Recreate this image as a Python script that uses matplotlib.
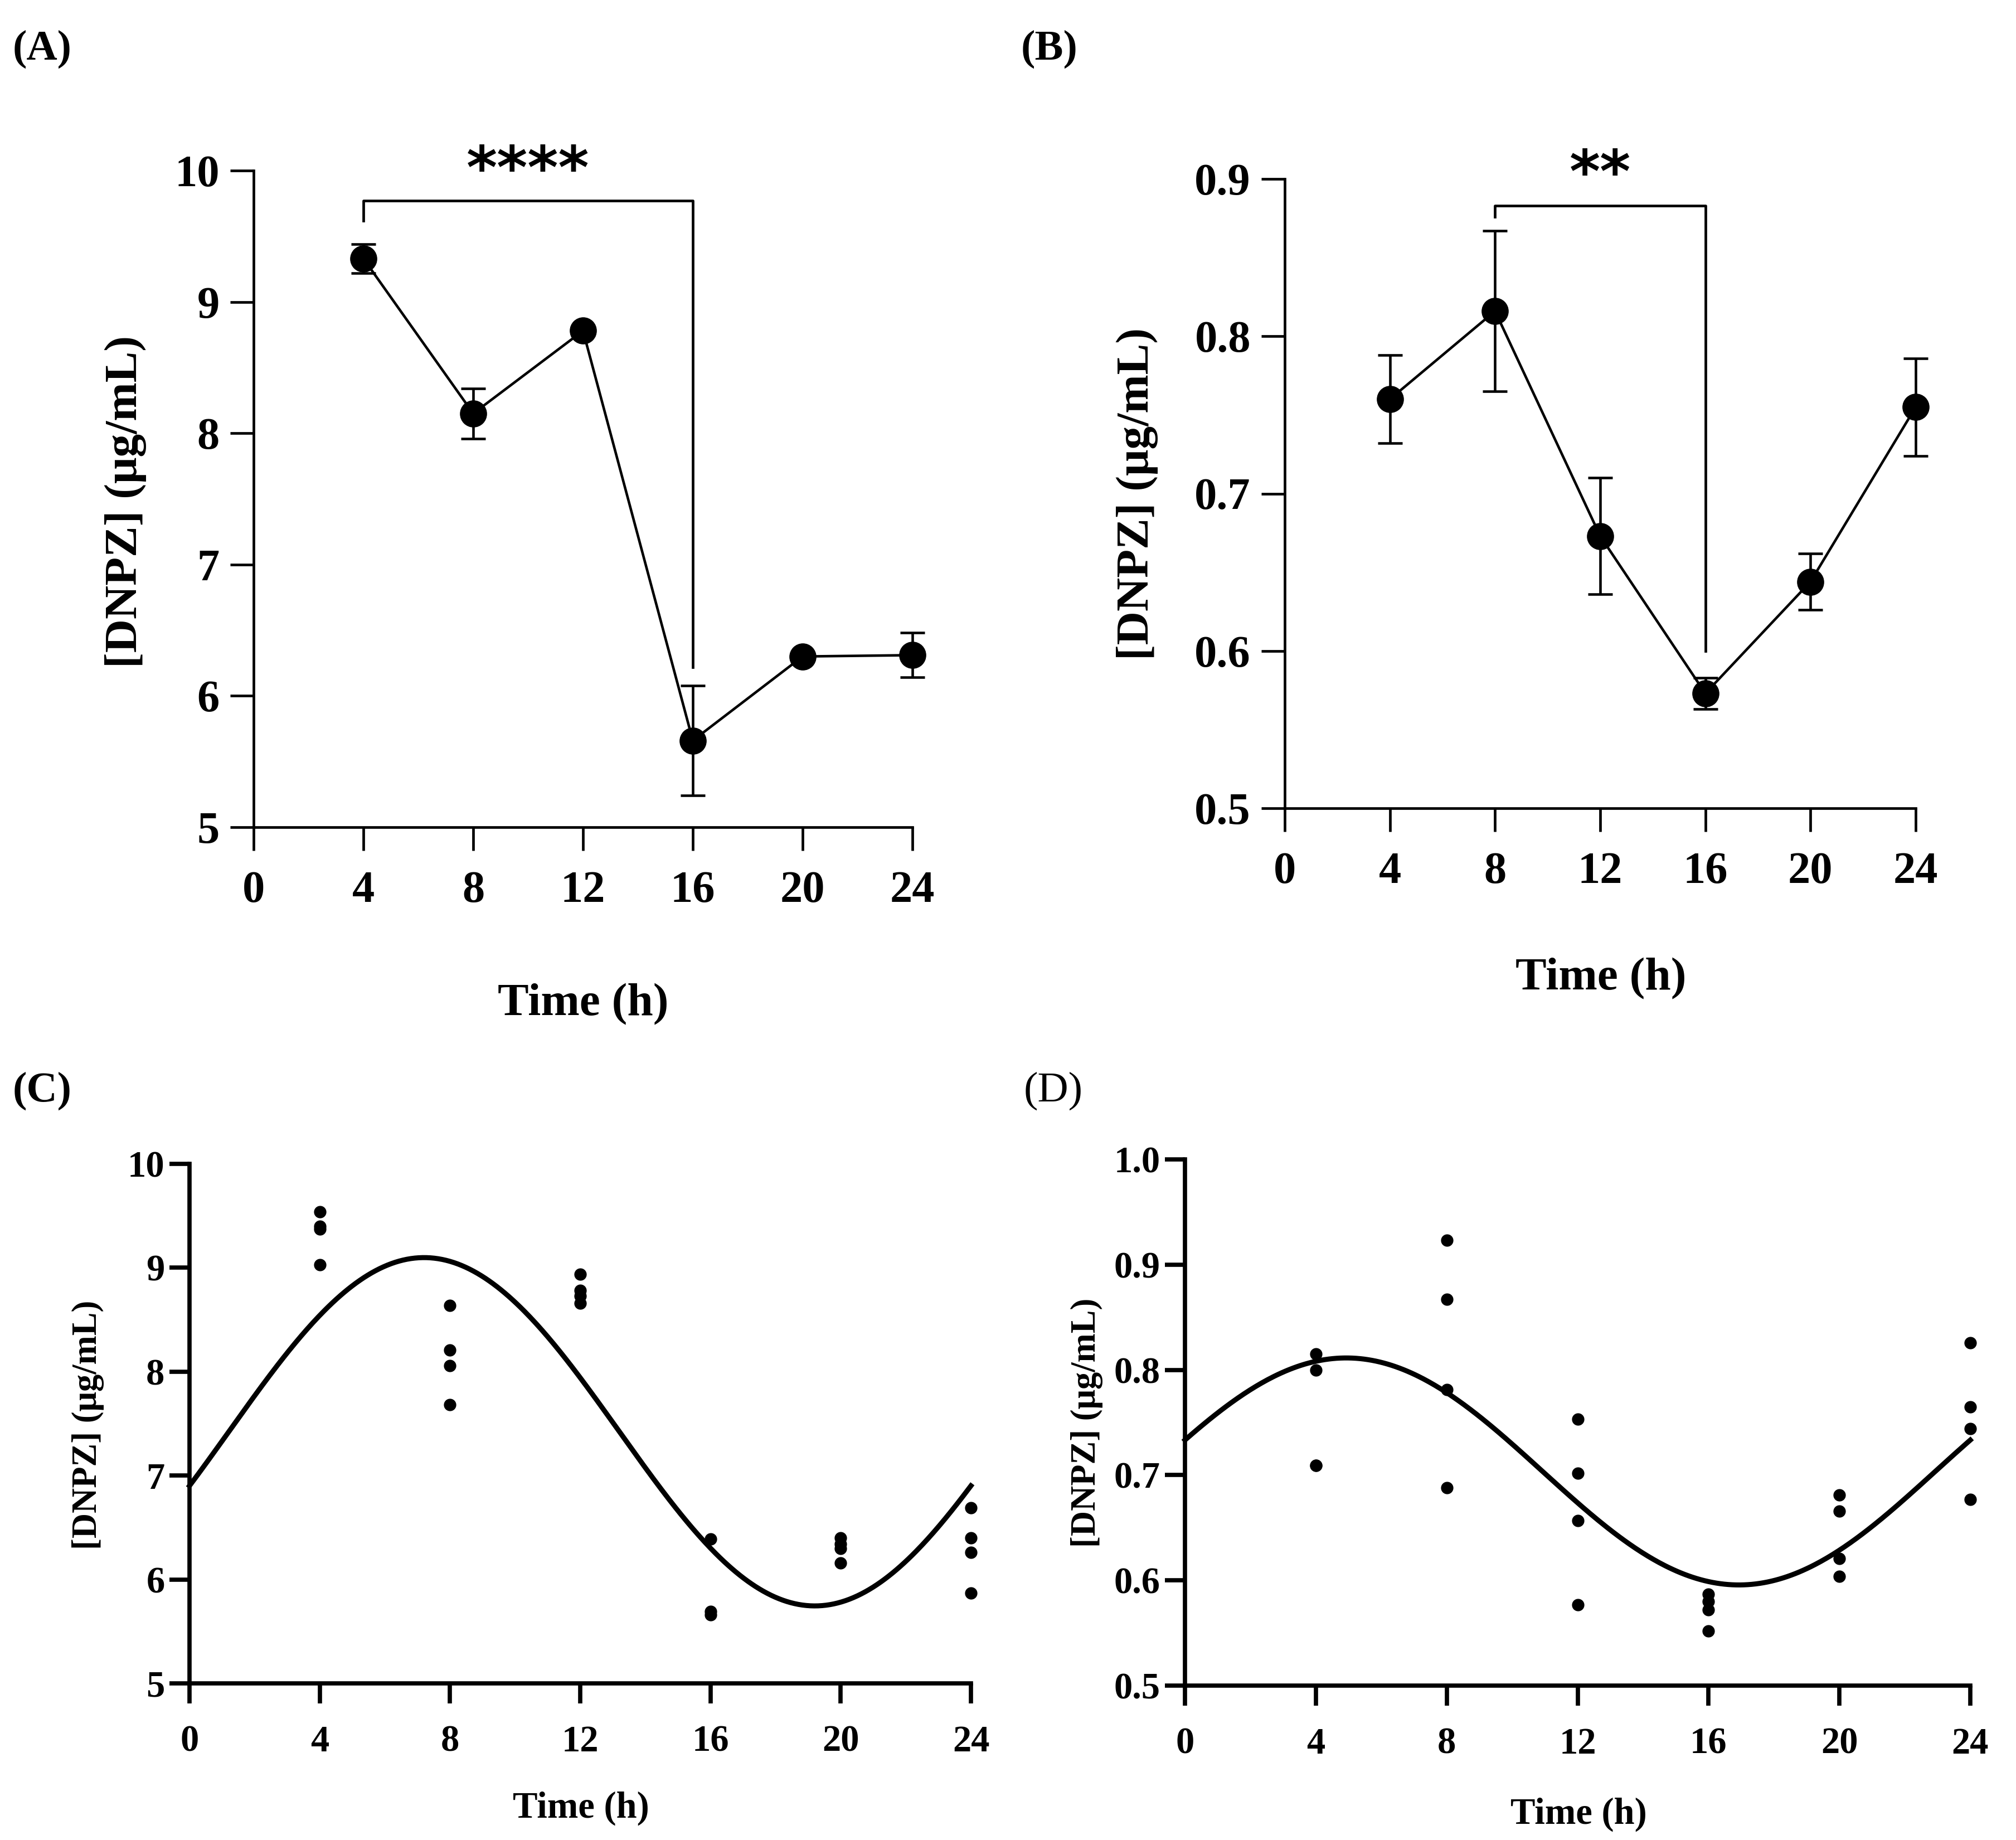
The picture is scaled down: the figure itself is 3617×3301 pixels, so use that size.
import numpy as np
import matplotlib
matplotlib.use("Agg")
import matplotlib.pyplot as plt

plt.rcParams['font.family'] = ['Liberation Serif', 'DejaVu Serif']
plt.rcParams['font.weight'] = 'bold'

# sampling times (h)
hours = [4, 8, 12, 16, 20, 24]
xticks = [0, 4, 8, 12, 16, 20, 24]

# (A) mean +/- SEM
a_mean = [9.33, 8.15, 8.78, 5.66, 6.30, 6.31]
a_sem = [0.11, 0.19, 0.03, 0.42, 0.03, 0.17]

# (B) mean +/- SEM
b_mean = [0.760, 0.816, 0.673, 0.573, 0.644, 0.755]
b_sem = [0.028, 0.051, 0.037, 0.010, 0.018, 0.031]

# (C) individual values
c_time = [4, 4, 4, 4, 8, 8, 8, 8, 12, 12, 12, 12, 16, 16, 16,
          20, 20, 20, 20, 24, 24, 24, 24]
c_vals = [9.54, 9.40, 9.37, 9.03, 8.64, 8.21, 8.06, 7.68,
          8.94, 8.78, 8.73, 8.66, 6.39, 5.69, 5.66,
          6.40, 6.34, 6.30, 6.16, 6.69, 6.40, 6.26, 5.87]

# (D) individual values
d_time = [4, 4, 4, 4, 8, 8, 8, 8, 12, 12, 12, 12, 16, 16, 16, 16,
          20, 20, 20, 20, 24, 24, 24, 24]
d_vals = [0.815, 0.800, 0.709, 0.709, 0.923, 0.867, 0.781, 0.688,
          0.753, 0.702, 0.657, 0.577, 0.587, 0.580, 0.572, 0.552,
          0.681, 0.666, 0.621, 0.604, 0.826, 0.765, 0.744, 0.677]


def cosinor(t, y, period=24.0):
    # least squares cosine fit, 24 h period
    w = 2 * np.pi / period
    t = np.asarray(t, float)
    X = np.column_stack([np.ones_like(t), np.cos(w * t), np.sin(w * t)])
    coef, *_ = np.linalg.lstsq(X, np.asarray(y, float), rcond=None)
    tt = np.linspace(0, 24, 400)
    return tt, coef[0] + coef[1] * np.cos(w * tt) + coef[2] * np.sin(w * tt)


W, H = 3617, 3301
fig = plt.figure(figsize=(W / 100, H / 100), dpi=100)


def box(left, top, right, bottom):
    return [left / W, 1 - bottom / H, (right - left) / W, (bottom - top) / H]


def ftext(x, y, s, **kw):
    fig.text(x / W, 1 - y / H, s, **kw)


def style(ax, lw, tl, fs, padx, pady):
    ax.spines['top'].set_visible(False)
    ax.spines['right'].set_visible(False)
    ax.spines['left'].set_linewidth(lw)
    ax.spines['bottom'].set_linewidth(lw)
    ax.tick_params(direction='out', width=lw, length=tl, labelsize=fs)
    ax.tick_params(axis='x', pad=padx)
    ax.tick_params(axis='y', pad=pady)
    ax.set_xticks(xticks)
    ax.set_xlim(0, 24)


ylab = '[DNPZ] (μg/mL)'

# ---- (A)
axA = fig.add_axes(box(455, 306, 1637, 1484))
axA.errorbar(hours, a_mean, yerr=a_sem, color='black', lw=3.3, marker='o',
             ms=34, capsize=16, capthick=3.3, elinewidth=3.3, clip_on=False)
axA.set_ylim(5, 10)
axA.set_yticks([5, 6, 7, 8, 9, 10])
style(axA, 3.4, 30, 58, 26, 14)
axA.plot([4, 4, 16, 16], [9.62, 9.77, 9.77, 6.22], color='black', lw=3.4)
axA.text(10, 9.99, '****', ha='center', va='center', fontsize=76,
         family='DejaVu Sans', fontweight='bold')
ftext(1046, 1802, 'Time (h)', ha='center', va='center', fontsize=60)
ftext(225, 900, ylab, ha='center', va='center', fontsize=60, rotation=90)
ftext(23, 88, '(A)', ha='left', va='center', fontsize=55)

# ---- (B)
axB = fig.add_axes(box(2305, 321, 3437, 1450))
axB.errorbar(hours, b_mean, yerr=b_sem, color='black', lw=3.3, marker='o',
             ms=34, capsize=16, capthick=3.3, elinewidth=3.3, clip_on=False)
axB.set_ylim(0.5, 0.9)
axB.set_yticks([0.5, 0.6, 0.7, 0.8, 0.9])
axB.set_yticklabels(['0.5', '0.6', '0.7', '0.8', '0.9'])
style(axB, 3.4, 30, 58, 26, 14)
axB.plot([8, 8, 16, 16], [0.876, 0.883, 0.883, 0.600], color='black', lw=3.4)
axB.text(12, 0.902, '**', ha='center', va='center', fontsize=76,
         family='DejaVu Sans', fontweight='bold')
ftext(2872, 1756, 'Time (h)', ha='center', va='center', fontsize=60)
ftext(2040, 886, ylab, ha='center', va='center', fontsize=60, rotation=90)
ftext(1832, 88, '(B)', ha='left', va='center', fontsize=55)

# ---- (C)
axC = fig.add_axes(box(340, 2088, 1742, 3020))
tt, fit_c = cosinor(hours, a_mean)
axC.plot(tt, fit_c, color='black', lw=6.5, clip_on=False)
axC.plot(c_time, c_vals, 'o', color='black', ms=15, clip_on=False)
axC.set_ylim(5, 10)
axC.set_yticks([5, 6, 7, 8, 9, 10])
style(axC, 5.5, 26, 48, 28, 6)
ftext(1042, 3244, 'Time (h)', ha='center', va='center', fontsize=48)
ftext(158, 2556, ylab, ha='center', va='center', fontsize=45, rotation=90)
ftext(23, 1957, '(C)', ha='left', va='center', fontsize=55)

# ---- (D)
axD = fig.add_axes(box(2126, 2080, 3535, 3024))
tt, fit_d = cosinor(hours, b_mean)
axD.plot(tt, fit_d, color='black', lw=6.5, clip_on=False)
axD.plot(d_time, d_vals, 'o', color='black', ms=15, clip_on=False)
axD.set_ylim(0.5, 1.0)
axD.set_yticks([0.5, 0.6, 0.7, 0.8, 0.9, 1.0])
axD.set_yticklabels(['0.5', '0.6', '0.7', '0.8', '0.9', '1.0'])
style(axD, 5.5, 26, 48, 28, 6)
ftext(2832, 3255, 'Time (h)', ha='center', va='center', fontsize=48)
ftext(1950, 2552, ylab, ha='center', va='center', fontsize=45, rotation=90)
ftext(1837, 1957, '(D)', ha='left', va='center', fontsize=55,
      fontweight='normal')

fig.savefig('out.png', dpi=100, facecolor='white')
